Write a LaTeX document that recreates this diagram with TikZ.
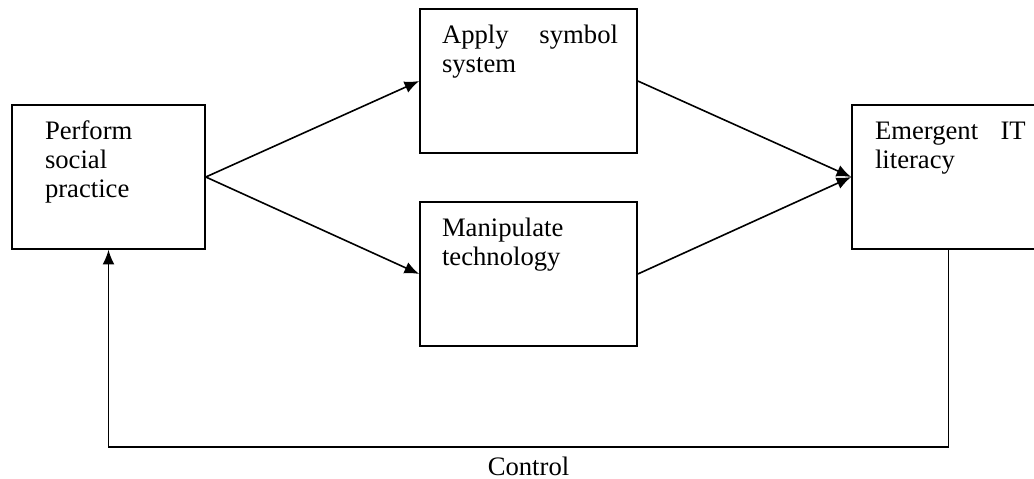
\documentclass[tikz,border=0pt]{standalone}
\usepackage{fontspec}
\setmainfont{Liberation Serif}
\usetikzlibrary{arrows.meta}

\newcommand{\spreadgap}{\hskip 0pt plus 1filll\relax}

\tikzset{
  box/.style={draw, minimum height=108pt, inner sep=0pt},
  boxtext/.style={anchor=base west, inner sep=0pt, align=left, font=\fontsize{20}{21.75}\selectfont},
}

\begin{document}
\begin{tikzpicture}[x=0.75pt,y=-0.75pt,line width=1.2pt,>={Latex[length=11pt,width=9pt]}]
        % fix the size of the page
        \clip (0,0) rectangle (1034,478);

        % draw the boxes
        \node[box, minimum width=144.75pt] (perform) at (108.5,177) {};
        \node[box, minimum width=162.75pt] (apply) at (528.5,81) {};
        \node[box, minimum width=162.75pt] (manipulate) at (528.5,274) {};
        \node[box, minimum width=144.75pt] (emergent) at (948.5,177) {};

        % write the text in each box
        \foreach \b/\dx/\w/\txt in {
            perform/33/120pt/{Perform\\social\\practice},
            apply/22/132pt/{Apply\spreadgap symbol\\system},
            manipulate/22/132pt/{Manipulate\\technology},
            emergent/23/113pt/{Emergent\spreadgap IT\\literacy}}
                \node[boxtext, text width=\w] (\b-text) at ([shift={(\dx,35)}]\b.north west) {\txt};

        % draw the arrows between the boxes
        \draw[->] (perform.east) -- (apply.west);
        \draw[->] (perform.east) -- (manipulate.west);
        \draw[->] (apply.east) -- (emergent.west);
        \draw[->] (manipulate.east) -- (emergent.west);

        % draw the feedback loop
        \draw[->] (emergent.south) -- ++(0,197) -| (perform.south)
            node[pos=0.25, below=7pt, inner sep=0pt, font=\fontsize{20}{24}\selectfont] (control) {Control};
\end{tikzpicture}
\end{document}
